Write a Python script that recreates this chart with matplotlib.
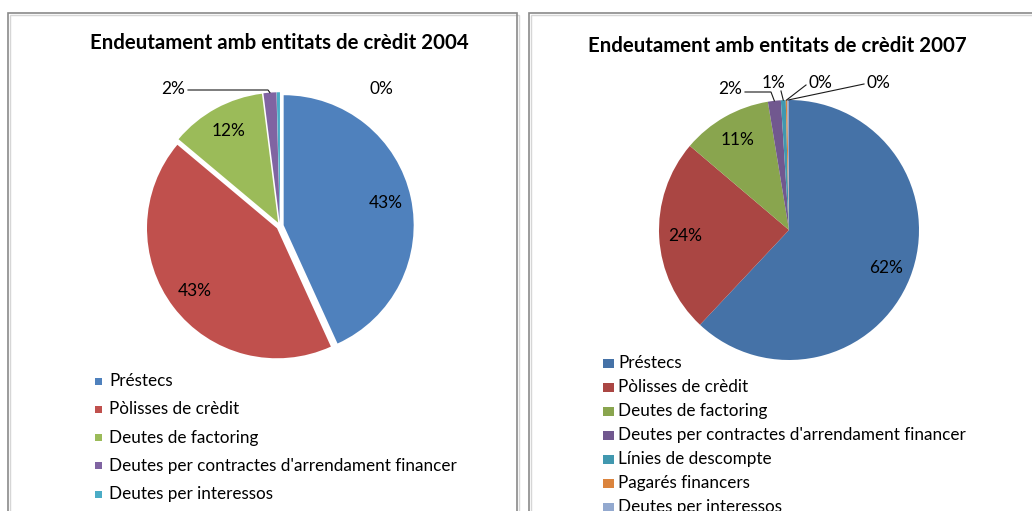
import matplotlib
matplotlib.use("Agg")
import matplotlib.pyplot as plt
from matplotlib.patches import Rectangle
from matplotlib.lines import Line2D
import numpy as np

plt.rcParams['font.family'] = ['Lato', 'DejaVu Sans']

W, H, DPI = 1032, 511, 100

# ---------------- data ----------------
title_2004 = "Endeutament amb entitats de crèdit 2004"
title_2007 = "Endeutament amb entitats de crèdit 2007"

cats_2004 = ["Préstecs", "Pòlisses de crèdit", "Deutes de factoring",
             "Deutes per contractes d'arrendament financer", "Deutes per interessos"]
vals_2004 = [43.2, 42.9, 11.9, 1.6, 0.4]
colors_2004 = ["#4F81BD", "#C0504D", "#9BBB59", "#8064A2", "#4BACC6"]

cats_2007 = ["Préstecs", "Pòlisses de crèdit", "Deutes de factoring",
             "Deutes per contractes d'arrendament financer", "Línies de descompte",
             "Pagarés financers", "Deutes per interessos"]
vals_2007 = [62.0, 24.2, 11.2, 1.6, 0.6, 0.2, 0.2]
colors_2007 = ["#4572A7", "#AA4643", "#89A54E", "#71588F", "#4198AF", "#DB843D", "#93A9CF"]

# ---------------- layout helpers ----------------
fig = plt.figure(figsize=(W / DPI, H / DPI), dpi=DPI)
fig.patch.set_facecolor("white")


def fx(x):
    return x / W


def fy(y):
    return 1 - y / H


AXPX = 300.0
RPX = 130.0
R = RPX / (AXPX / 2)


def make_ax(cx, cy):
    ax = fig.add_axes([fx(cx - AXPX / 2), fy(cy + AXPX / 2), AXPX / W, AXPX / H])
    return ax


def fix_limits(ax):
    ax.set_xlim(-1, 1)
    ax.set_ylim(-1, 1)
    ax.set_aspect('equal')
    ax.axis('off')


def px_to_data(ax, x, y):
    return ax.transData.inverted().transform((x, H - y))


# panel borders
for (x0, y0, x1) in [(8, 13, 517), (529, 13, 1200)]:
    fig.add_artist(Rectangle((fx(x0 + 2), fy(700)), (x1 - x0) / W, (700 - y0 - 2) / H,
                             transform=fig.transFigure, fill=False,
                             edgecolor="#d6d6d6", linewidth=1.0))
    fig.add_artist(Rectangle((fx(x0), fy(700)), (x1 - x0) / W, (700 - y0) / H,
                             transform=fig.transFigure, fill=False,
                             edgecolor="#8a8a8a", linewidth=1.2))

TXT = 12.3
LBL = 12.4
TTL = 14.7


def draw_pie(cx, cy, vals, colors, explode, inside_n, outside, title, tpos):
    ax = make_ax(cx, cy)
    wedges, _ = ax.pie(vals, colors=colors, startangle=90, counterclock=False,
                       radius=R, explode=[explode] * len(vals),
                       wedgeprops=dict(linewidth=0))
    fix_limits(ax)
    total = float(sum(vals))
    for i, w in enumerate(wedges):
        pct = "{:.0f}%".format(vals[i] / total * 100)
        th = np.deg2rad((w.theta1 + w.theta2) / 2)
        wc = w.center
        if i < inside_n:
            ax.text(wc[0] + 0.8 * R * np.cos(th), wc[1] + 0.8 * R * np.sin(th), pct,
                    ha='center', va='center', fontsize=LBL, color='black')
        else:
            tx, ty, pts = outside[i]
            d = px_to_data(ax, tx, ty)
            ax.text(d[0], d[1], pct, ha='center', va='center', fontsize=LBL, color='black')
            if pts:
                xs = [px_to_data(ax, p[0], p[1])[0] for p in pts]
                ys = [px_to_data(ax, p[0], p[1])[1] for p in pts]
                xs.append(wc[0] + R * np.cos(th))
                ys.append(wc[1] + R * np.sin(th))
                ax.add_line(Line2D(xs, ys, color='#1a1a1a', linewidth=0.8))
    fig.text(fx(tpos[0]), fy(tpos[1]), title, ha='center', va='center',
             fontsize=TTL, fontweight='bold', color='black')
    return wedges


outside_2004 = {
    3: (173, 89, [(188, 90), (268, 90)]),
    4: (381, 89, None),
}
outside_2007 = {
    3: (730, 89, [(745, 92), (771, 92)]),
    4: (774, 83, [(781, 91)]),
    5: (820, 83, [(806, 85)]),
    6: (878, 83, [(864, 84)]),
}

draw_pie(280, 226, vals_2004, colors_2004, 0.025, 3, outside_2004, title_2004, (279, 43))
draw_pie(789, 230, vals_2007, colors_2007, 0.0, 3, outside_2007, title_2007, (777, 46))


def draw_legend(cats, colors, sqx, sqw, sqh, tx, y0, dy):
    for i, (c, col) in enumerate(zip(cats, colors)):
        y = y0 + i * dy
        fig.add_artist(Rectangle((fx(sqx), fy(y + sqh / 2)), sqw / W, sqh / H,
                                 transform=fig.transFigure, facecolor=col,
                                 edgecolor='none'))
        fig.text(fx(tx), fy(y), c, ha='left', va='center', fontsize=TXT, color='black')


draw_legend(cats_2004, colors_2004, 95, 7, 7, 109, 381, 28.3)
draw_legend(cats_2007, colors_2007, 603, 11, 9, 618, 363, 24.0)

fig.savefig("out.png", dpi=DPI)
